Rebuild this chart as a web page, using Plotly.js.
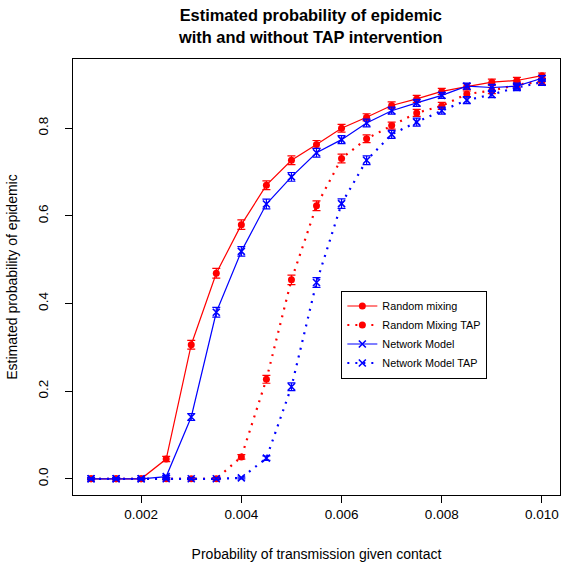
<!DOCTYPE html>
<html>
<head>
<meta charset="utf-8">
<script src="https://cdn.plot.ly/plotly-3.0.1.min.js"></script>
<style>html,body{margin:0;padding:0;background:#fff;}#chart{width:562px;height:562px;}</style>
</head>
<body>
<div id="chart"></div>
<script>
var transProb = [0.001,0.0015,0.002,0.0025,0.003,0.0035,0.004,0.0045,0.005,0.0055,0.006,0.0065,0.007,0.0075,0.008,0.0085,0.009,0.0095,0.010];
var randomMixing    = [0,0,0,0.045,0.306,0.469,0.580,0.670,0.727,0.763,0.800,0.825,0.852,0.867,0.884,0.895,0.905,0.909,0.920];
var randomMixingTAP = [0,0,0,0,0,0,0.050,0.227,0.454,0.623,0.731,0.776,0.806,0.835,0.851,0.878,0.886,0.899,0.907];
var networkModel    = [0,0,0,0.005,0.141,0.380,0.519,0.627,0.689,0.744,0.774,0.812,0.840,0.858,0.875,0.896,0.893,0.896,0.914];
var networkModelTAP = [0,0,0,0,0,0,0.002,0.047,0.210,0.448,0.628,0.727,0.786,0.814,0.840,0.864,0.877,0.893,0.905];
var errRM    = [0.002,0.002,0.002,0.006,0.010,0.011,0.011,0.010,0.010,0.009,0.009,0.008,0.008,0.008,0.007,0.007,0.007,0.007,0.006];
var errRMTAP = [0.002,0.002,0.002,0.002,0.002,0.002,0.005,0.009,0.011,0.011,0.010,0.009,0.008,0.008,0.008,0.007,0.007,0.007,0.007];
var errNM    = [0.002,0.002,0.002,0.003,0.008,0.011,0.011,0.011,0.010,0.010,0.009,0.009,0.008,0.008,0.007,0.007,0.007,0.007,0.006];
var errNMTAP = [0.002,0.002,0.002,0.002,0.002,0.002,0.002,0.005,0.009,0.011,0.011,0.010,0.009,0.009,0.008,0.008,0.007,0.007,0.007];
var seriesNames = ["Random mixing","Random Mixing TAP","Network Model","Network Model TAP"];

var RED = "#ff0000", BLUE = "#0000ff";
function mk(y, err, name, color, dash, symbol) {
  return {
    x: transProb, y: y, name: name, type: "scatter", mode: "lines+markers",
    line: {color: color, width: dash === "solid" ? 1.2 : 2.2, dash: dash === "solid" ? "solid" : "2px,6px"},
    marker: symbol === "circle"
      ? {symbol: "circle", size: 7, color: color}
      : {symbol: "x-thin-open", size: 7, color: color, line: {color: color, width: 1.6}},
    error_y: {type: "data", array: err, visible: true, color: color, thickness: 1.2, width: 4}
  };
}
var traces = [
  mk(randomMixing, errRM, seriesNames[0], RED, "solid", "circle"),
  mk(randomMixingTAP, errRMTAP, seriesNames[1], RED, "dot", "circle"),
  mk(networkModel, errNM, seriesNames[2], BLUE, "solid", "x"),
  mk(networkModelTAP, errNMTAP, seriesNames[3], BLUE, "dot", "x")
];
var FONT = "Liberation Sans, Arial, Helvetica, sans-serif";
var layout = {
  width: 562, height: 562,
  margin: {l: 73, r: 2, t: 59, b: 67},
  paper_bgcolor: "#fff", plot_bgcolor: "#fff",
  font: {family: FONT, color: "#000", size: 13},
  showlegend: true,
  title: {text: "<b>Estimated probability of epidemic<br>with and without TAP intervention</b>",
          x: 0.553, xanchor: "center", y: 0.962, yanchor: "top", font: {size: 16.4, family: FONT}},
  xaxis: {
    range: [0.00064, 0.01036], tickvals: [0.002,0.004,0.006,0.008,0.010],
    ticktext: ["0.002","0.004","0.006","0.008","0.010"],
    showgrid: false, zeroline: false, showline: true, linecolor: "#000", linewidth: 1, mirror: true,
    ticks: "outside", ticklen: 7, tickcolor: "#000", tickfont: {size: 13.5},
    title: {text: "Probability of transmission given contact", font: {size: 14}, standoff: 28}
  },
  yaxis: {
    range: [-0.037, 0.958], tickvals: [0,0.2,0.4,0.6,0.8], ticktext: ["0.0","0.2","0.4","0.6","0.8"],
    tickangle: -90, ticklabelstandoff: 12,
    showgrid: false, zeroline: false, showline: true, linecolor: "#000", linewidth: 1, mirror: true,
    ticks: "outside", ticklen: 7, tickcolor: "#000", tickfont: {size: 13.5},
    title: {text: "Estimated probability of epidemic", font: {size: 14}, standoff: 14}
  },
  legend: {x: 0.551, y: 0.469, xanchor: "left", yanchor: "top",
           bordercolor: "#000", borderwidth: 1, bgcolor: "#fff",
           font: {size: 10.8, family: FONT}, tracegroupgap: 0, itemwidth: 30}
};
Plotly.newPlot("chart", traces, layout, {displayModeBar: false, staticPlot: true});
</script>
</body>
</html>
